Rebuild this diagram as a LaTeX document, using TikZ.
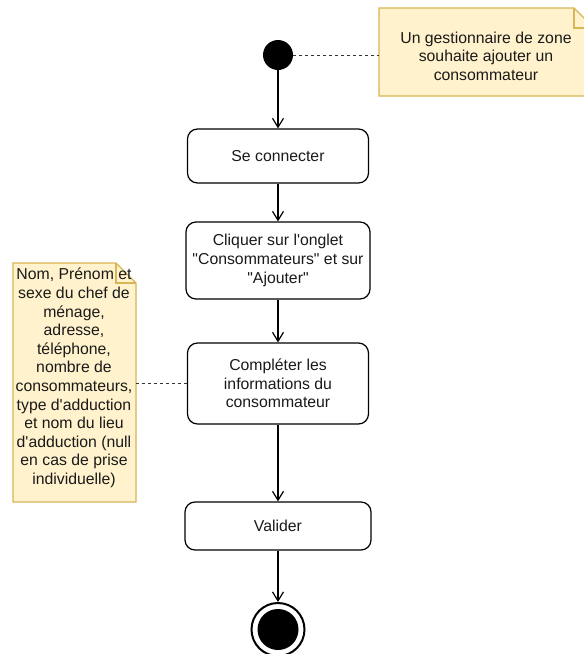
\documentclass[tikz,border=0pt]{standalone}
\usepackage{fontspec}
\setmainfont{Liberation Sans}[Ligatures=TeXOff]
\usetikzlibrary{arrows.meta}
\definecolor{notefill}{HTML}{FFF2CC}
\definecolor{notedraw}{HTML}{D6B656}
\definecolor{txt}{HTML}{1A1A1A}
\newcommand{\dfont}{\fontsize{15.8}{18.6}\selectfont}
\begin{document}
\begin{tikzpicture}[x=1pt,y=-1pt,
  act/.style={draw=black, fill=white, rounded corners=10pt, line width=1.2pt, align=center,
    font=\dfont, text=txt, inner sep=0pt},
  notearea/.style={inner sep=0pt, outer sep=0pt},
  notetext/.style={align=center, font=\dfont, text=txt, inner sep=0pt},
  noteshape/.style={fill=notefill, draw=notedraw, line width=1.2pt, line join=miter},
  arr/.style={line width=1.2pt, -{Straight Barb[length=9pt,width=11pt,line width=1.2pt]}},
  dashline/.style={line width=1pt, draw=black!80, dash pattern=on 3pt off 3pt}
]
\useasboundingbox (0,0) rectangle (584,654);

% initial node
\node[circle, fill=black, minimum size=30pt, inner sep=0pt] (start) at (278,55) {};

% note 1
\node[notearea, minimum width=215pt, minimum height=88pt] (n1) at (486.5,52) {};
\path[noteshape] (n1.north west) -- ([xshift=-20pt]n1.north east) -- ([yshift=-20pt]n1.north east)
  -- (n1.south east) -- (n1.south west) -- cycle;
\draw[draw=notedraw, line width=1.2pt] ([xshift=-20pt]n1.north east) -- ([xshift=-20pt,yshift=-20pt]n1.north east)
  -- ([yshift=-20pt]n1.north east);
\node[notetext] (n1t) at (486,56) {Un gestionnaire de zone\\souhaite ajouter un\\consommateur};

% actions
\node[act, minimum width=181pt, minimum height=54pt] (b1) at (278,156) {Se connecter};
\node[act, minimum width=184pt, minimum height=77pt] (b2) at (278,260.5) {Cliquer sur l'onglet\\"Consommateurs" et sur\\"Ajouter"};
\node[act, minimum width=181pt, minimum height=81pt] (b3) at (278,383.5) {Compléter les\\informations du\\consommateur};
\node[act, minimum width=186pt, minimum height=48pt] (b4) at (278,526) {Valider};

% final node
\node[circle, draw=black, line width=2pt, minimum size=53pt, inner sep=0pt] (end) at (278,629.5) {};
\fill[black] (end.center) circle[radius=20.5pt];

% note 2
\node[notearea, minimum width=123pt, minimum height=239pt] (n2) at (74.5,382.5) {};
\path[noteshape] (n2.north west) -- ([xshift=-20pt]n2.north east) -- ([yshift=-20pt]n2.north east)
  -- (n2.south east) -- (n2.south west) -- cycle;
\draw[draw=notedraw, line width=1.2pt] ([xshift=-20pt]n2.north east) -- ([xshift=-20pt,yshift=-20pt]n2.north east)
  -- ([yshift=-20pt]n2.north east);
\node[notetext] (n2t) at (74,378) {Nom, Prénom et\\sexe du chef de\\ménage,\\adresse,\\téléphone,\\nombre de\\consommateurs,\\type d'adduction\\et nom du lieu\\d'adduction (null\\en cas de prise\\individuelle)};

% connectors
\draw[arr] (start.south) -- (b1.north);
\draw[arr] (b1.south) -- (b2.north);
\draw[arr] (b2.south) -- (b3.north);
\draw[arr] (b3.south) -- (b4.north);
\draw[arr] (b4.south) -- (end.north);
\draw[dashline] (start.east) -- (start.east -| n1.west);
\draw[dashline] (b3.west -| n2.east) -- (b3.west);
\end{tikzpicture}
\end{document}
